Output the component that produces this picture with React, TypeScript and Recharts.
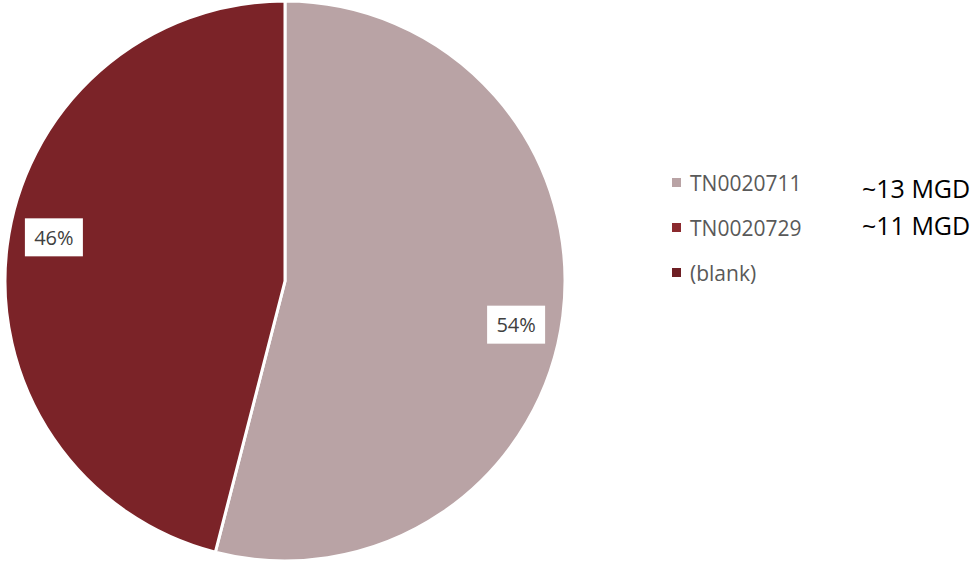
import { PieChart, Pie, Cell, Legend } from "recharts";

const CATEGORIES = ["TN0020711", "TN0020729", "(blank)"];
const SHARES = [54, 46, 0];
const FLOW_NOTES = ["~13 MGD", "~11 MGD"];

const SLICE_COLORS = ["#b9a3a5", "#7b2328", "#6e1f24"];
const LEGEND_COLORS = ["#b9a3a5", "#8b2a2e", "#6e1f24"];

const data = CATEGORIES.map((name, i) => ({ name, value: SHARES[i] }));

const RAD = Math.PI / 180;
const FONT = "'Open Sans', 'Noto Sans', sans-serif";

// white boxed percent label, pushed a little clockwise like Excel's best fit
function renderLabel(props: any) {
  const { cx, cy, midAngle, outerRadius, value } = props;
  if (!value) return null;
  const ang = (midAngle - 3.5) * RAD;
  const r = outerRadius * 0.84;
  const x = cx + r * Math.cos(ang);
  const y = cy - r * Math.sin(ang);
  return (
    <g>
      <rect x={x - 29} y={y - 19} width={58} height={38} fill="#ffffff" />
      <text
        x={x}
        y={y}
        textAnchor="middle"
        dominantBaseline="central"
        fontSize={20}
        fontFamily={FONT}
        fill="#404040"
      >
        {value}%
      </text>
    </g>
  );
}

function renderLegend() {
  return (
    <div style={{ fontFamily: FONT, fontSize: 21, color: "#595959" }}>
      {CATEGORIES.map((c, i) => (
        <div
          key={c}
          style={{ display: "flex", alignItems: "center", height: 45 }}
        >
          <span
            style={{
              display: "inline-block",
              width: 9,
              height: 9,
              background: LEGEND_COLORS[i],
              marginRight: 9,
            }}
          />
          {c}
        </div>
      ))}
    </div>
  );
}

export default function App() {
  return (
    <div
      style={{
        position: "absolute",
        left: 0,
        top: 0,
        width: 976,
        height: 563,
        background: "#ffffff",
      }}
    >
      <PieChart
        width={976}
        height={563}
        margin={{ top: 0, right: 0, bottom: 0, left: 0 }}
      >
        <Pie
          data={data}
          dataKey="value"
          nameKey="name"
          cx={285}
          cy={281}
          outerRadius={280}
          startAngle={90}
          endAngle={-270}
          stroke="#ffffff"
          strokeWidth={3}
          label={renderLabel}
          labelLine={false}
          isAnimationActive={false}
        >
          {data.map((d, i) => (
            <Cell key={d.name} fill={SLICE_COLORS[i]} />
          ))}
        </Pie>
        <Legend
          layout="vertical"
          align="right"
          verticalAlign="top"
          wrapperStyle={{ left: 672, top: 160, width: 180 }}
          content={renderLegend}
        />
      </PieChart>
      {FLOW_NOTES.map((t, i) => (
        <div
          key={t}
          style={{
            position: "absolute",
            left: 862,
            top: 172 + i * 37,
            fontFamily: FONT,
            fontSize: 25,
            color: "#000000",
            lineHeight: "32px",
            whiteSpace: "nowrap",
          }}
        >
          {t}
        </div>
      ))}
    </div>
  );
}
